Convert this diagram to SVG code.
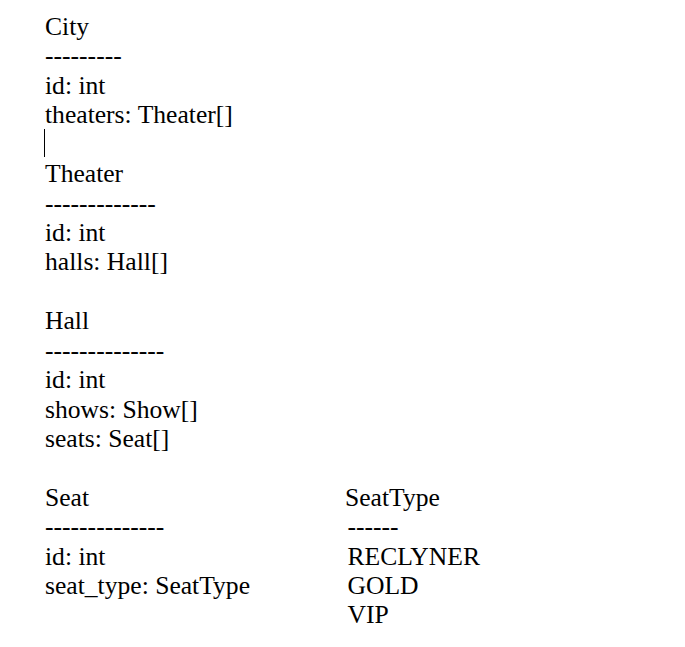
<svg xmlns="http://www.w3.org/2000/svg" width="685" height="647" viewBox="0 0 685 647">
<style>
text{font-family:"Liberation Serif","Times New Roman",serif;font-size:25.6px;fill:#000}
</style>
<rect width="685" height="647" fill="#fff"/>
<g id="city">
<text x="45" y="35">City</text>
<text x="45" y="64.4">---------</text>
<text x="45" y="93.8">id: int</text>
<text x="45" y="123.3">theaters: Theater[]</text>
</g>
<g id="connectors">
<line x1="44.5" y1="129" x2="44.5" y2="157" stroke="#000" stroke-width="1"/>
</g>
<g id="theater">
<text x="45" y="182.1">Theater</text>
<text x="45" y="211.5">-------------</text>
<text x="45" y="241">id: int</text>
<text x="45" y="270.4">halls: Hall[]</text>
</g>
<g id="hall">
<text x="45" y="329.2">Hall</text>
<text x="45" y="358.6">--------------</text>
<text x="45" y="388">id: int</text>
<text x="45" y="417.5">shows: Show[]</text>
<text x="45" y="446.9">seats: Seat[]</text>
</g>
<g id="seat">
<text x="45" y="505.7">Seat</text>
<text x="45" y="535.1">--------------</text>
<text x="45" y="564.6">id: int</text>
<text x="45" y="594">seat_type: SeatType</text>
</g>
<g id="seattype">
<text x="345" y="505.7">SeatType</text>
<text x="347.5" y="535.1">------</text>
<text x="347.5" y="564.6">RECLYNER</text>
<text x="347.5" y="594">GOLD</text>
<text x="347.5" y="623.4">VIP</text>
</g>
</svg>
